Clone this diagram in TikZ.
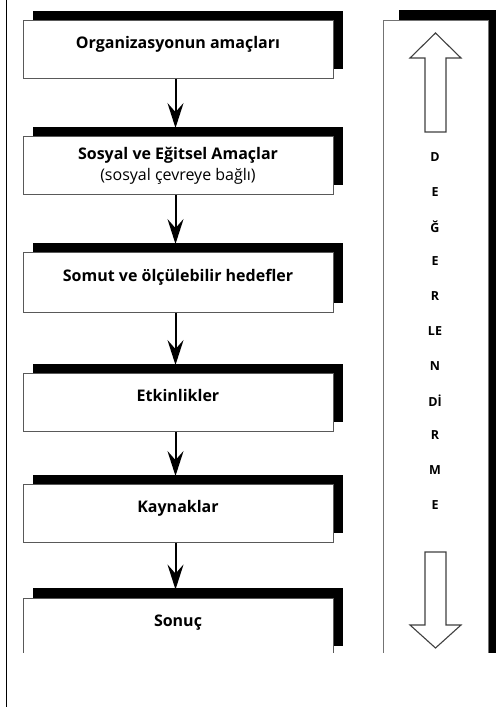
\documentclass[tikz,border=0pt]{standalone}
\usepackage{fontspec}
\setmainfont{Open Sans}
\usetikzlibrary{shadows,arrows.meta,calc}
\begin{document}
\begin{tikzpicture}[x=1pt,y=-1pt,
  flowbox/.style={draw=black!65, line width=0.9pt, fill=white,
    minimum width=310pt, minimum height=58pt, inner sep=0pt, align=center,
    font=\bfseries\fontsize{16}{21}\selectfont,
    drop shadow={shadow xshift=10pt, shadow yshift=10pt, fill=black, opacity=1}},
  oneline/.style={text height=12pt, text depth=14pt},
  flowarrow/.style={line width=2pt, -{Stealth[length=25pt,width=16pt,inset=9pt]}, shorten >=8pt},
  blockarrow/.style={draw=black!75, line width=1.1pt, fill=white, line join=miter},
  letter/.style={font=\bfseries\fontsize{12.5}{14}\selectfont, inner sep=0pt}
]
\useasboundingbox (0,0) rectangle (501,707);
\fill[white] (0,0) rectangle (501,707);

% left frame line
\draw[line width=1.4pt] (6.5,0) -- (6.5,707);

\begin{scope}
  \clip (0,0) rectangle (501,652);

  % flow boxes
  \node[flowbox, oneline] (b1) at (178,49.5) {Organizasyonun amaçları};
  \node[flowbox] (b2) at (178,165.5) {Sosyal ve Eğitsel Amaçlar\\{\mdseries (sosyal çevreye bağlı)}};
  \node[flowbox, oneline, minimum height=60pt] (b3) at (178,282.5) {Somut ve ölçülebilir hedefler};
  \node[flowbox, oneline] (b4) at (178,402.5) {Etkinlikler};
  \node[flowbox, oneline] (b5) at (178,513.5) {Kaynaklar};
  \node[flowbox, oneline] (b6) at (178,627) {Sonuç};

  % connectors
  \foreach \a/\b in {b1/b2, b2/b3, b3/b4, b4/b5, b5/b6}
    \draw[flowarrow] ([xshift=-2.5pt]\a.south) -- ([xshift=-2.5pt]\b.north);

  % side panel with its shadow
  \fill (399,10) rectangle (496,660);
  \node[draw=black!55, line width=0.7pt, fill=white, minimum width=105pt,
        minimum height=660pt, inner sep=0pt] (panel) at (435.5,350) {};

  % hollow arrows
  \draw[blockarrow] (435.5,33) -- (461,58) -- (446,58) -- (446,132)
    -- (425,132) -- (425,58) -- (410,58) -- cycle;
  \draw[blockarrow] (435.5,648) -- (461,625) -- (446,625) -- (446,552)
    -- (425,552) -- (425,625) -- (410,625) -- cycle;

  % vertical word
  \foreach \t [count=\i from 0] in {D,E,Ğ,E,R,LE,N,Dİ,R,M,E}
    \node[letter] (l\i) at (435,157+34.8*\i) {\t};
\end{scope}
\end{tikzpicture}
\end{document}
